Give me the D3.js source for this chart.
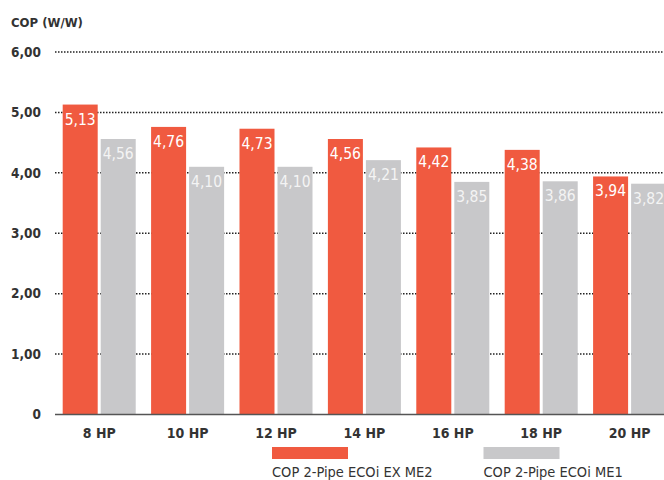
<!DOCTYPE html>
<html>
<head>
<meta charset="utf-8">
<script src="https://cdn.jsdelivr.net/npm/d3@7"></script>
<style>
  body { margin: 0; background: #fff; }
  text { font-family: "Liberation Sans Narrow", "DejaVu Sans Condensed", "Roboto", sans-serif; }
</style>
</head>
<body>
<div id="chart"></div>
<script>
// values
var categories = ["8 HP", "10 HP", "12 HP", "14 HP", "16 HP", "18 HP", "20 HP"];
var seriesNames = ["COP 2-Pipe ECOi EX ME2", "COP 2-Pipe ECOi ME1"];
var valuesEX = [5.13, 4.76, 4.73, 4.56, 4.42, 4.38, 3.94];
var valuesME1 = [4.56, 4.10, 4.10, 4.21, 3.85, 3.86, 3.82];
var yTicks = [0, 1, 2, 3, 4, 5, 6];
var colors = ["#f05a40", "#c8c8ca"];

var width = 664, height = 480;

var svg = d3.select("#chart").append("svg")
    .attr("width", width)
    .attr("height", height);

var rows = categories.map(function(c, i) {
    return { cat: c, vals: [valuesEX[i], valuesME1[i]] };
});

var x0 = d3.scaleBand()
    .domain(categories)
    .range([55, 55 + 7 * 88.4])
    .paddingInner(0.174)
    .paddingOuter(0.087);

var x1 = d3.scaleBand()
    .domain([0, 1])
    .range([0, x0.bandwidth()])
    .paddingInner(0.079);

var y = d3.scaleLinear()
    .domain([0, 6])
    .range([414.5, 52]);

function fmt(v) {
    return v === 0 ? "0" : d3.format(".2f")(v).replace(".", ",");
}

// dotted gridlines (behind bars)
svg.append("g").selectAll("line")
    .data(yTicks.filter(function(t) { return t > 0; }))
    .enter().append("line")
    .attr("x1", 55).attr("x2", width)
    .attr("y1", function(d) { return y(d); })
    .attr("y2", function(d) { return y(d); })
    .attr("stroke", "#222")
    .attr("stroke-width", 1.5)
    .attr("stroke-dasharray", "1.5,1.5");

// y tick labels
svg.append("g").selectAll("text")
    .data(yTicks)
    .enter().append("text")
    .attr("x", 41)
    .attr("y", function(d) { return y(d); })
    .attr("dy", "0.35em")
    .attr("text-anchor", "end")
    .attr("font-size", 13.5)
    .attr("font-weight", "bold")
    .attr("fill", "#333")
    .text(fmt);

svg.append("text")
    .attr("x", 11).attr("y", 27)
    .attr("font-size", 13)
    .attr("font-weight", "bold")
    .attr("fill", "#333")
    .text("COP (W/W)");

// bars
var groups = svg.append("g").selectAll("g")
    .data(rows)
    .enter().append("g")
    .attr("transform", function(d) { return "translate(" + x0(d.cat) + ",0)"; });

groups.selectAll("rect")
    .data(function(d) { return d.vals; })
    .enter().append("rect")
    .attr("x", function(d, i) { return x1(i); })
    .attr("y", function(d) { return y(d); })
    .attr("width", x1.bandwidth())
    .attr("height", function(d) { return y(0) - y(d); })
    .attr("fill", function(d, i) { return colors[i]; });

groups.selectAll("text")
    .data(function(d) { return d.vals; })
    .enter().append("text")
    .attr("x", function(d, i) { return x1(i) + x1.bandwidth() / 2; })
    .attr("y", function(d) { return y(d) + 20; })
    .attr("text-anchor", "middle")
    .attr("font-size", 15.5)
    .attr("fill", function(d, i) { return i === 0 ? "#fff" : "#f4f4f4"; })
    .text(fmt);

// baseline
svg.append("line")
    .attr("x1", 55).attr("x2", width)
    .attr("y1", y(0)).attr("y2", y(0))
    .attr("stroke", "#555")
    .attr("stroke-width", 1.5);

// category labels
svg.append("g").selectAll("text")
    .data(categories)
    .enter().append("text")
    .attr("x", function(d) { return x0(d) + x0.bandwidth() / 2; })
    .attr("y", 438)
    .attr("text-anchor", "middle")
    .attr("font-size", 14)
    .attr("font-weight", "bold")
    .attr("fill", "#333")
    .text(function(d) { return d; });

// legend
var legendX = [272, 483.5];
var legend = svg.append("g").selectAll("g")
    .data(seriesNames)
    .enter().append("g")
    .attr("transform", function(d, i) { return "translate(" + legendX[i] + ",0)"; });

legend.append("rect")
    .attr("x", 0).attr("y", 447)
    .attr("width", 76).attr("height", 12)
    .attr("fill", function(d, i) { return colors[i]; });

legend.append("text")
    .attr("x", 0).attr("y", 477)
    .attr("font-size", 14.5)
    .attr("fill", "#333")
    .text(function(d) { return d; });
</script>
</body>
</html>
